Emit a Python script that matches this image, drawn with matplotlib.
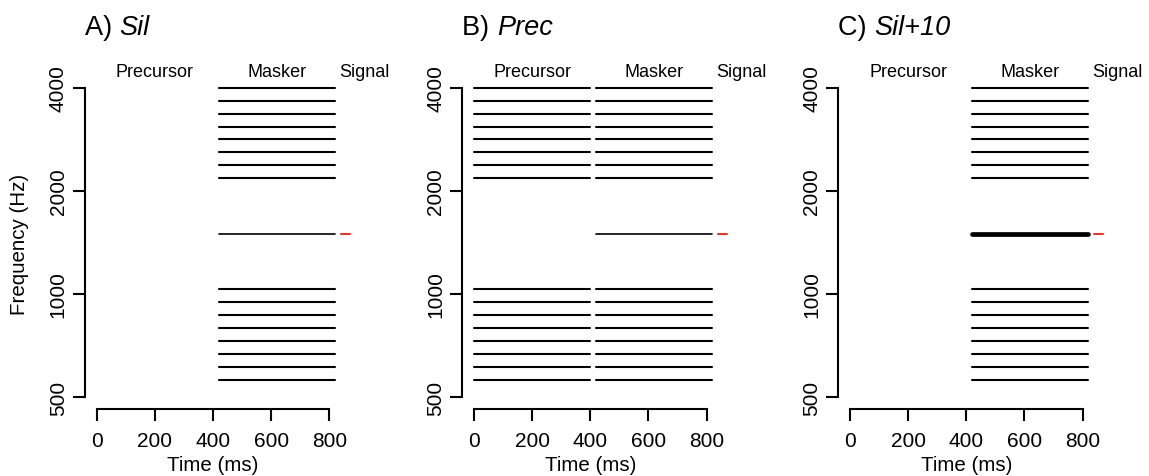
import matplotlib
matplotlib.use("Agg")
import matplotlib.pyplot as plt
import matplotlib.transforms as mtransforms

plt.rcParams['font.family'] = ['Liberation Sans', 'DejaVu Sans']

# ---------------- data ----------------
panel_letters = ["A)", "B)", "C)"]
panel_names = ["Sil", "Prec", "Sil+10"]
upper_components = [2181, 2378, 2594, 2828, 3084, 3364, 3668, 4000]   # Hz
lower_components = [562, 613, 669, 730, 796, 868, 946, 1032]          # Hz
target_freq = 1500                                                     # Hz
precursor_time = [0, 400]        # ms
masker_time = [420, 820]         # ms
signal_time = [840, 870]         # ms
has_precursor = [False, True, False]
target_boost = [False, False, True]
segment_labels = ["Precursor", "Masker", "Signal"]
segment_label_x = [200, 620, 920]
xticks = [0, 200, 400, 600, 800]
yticks = [500, 1000, 2000, 4000]

# ---------------- layout (pixels) ----------------
W, H = 1149, 477
fig = plt.figure(figsize=(W / 100, H / 100), dpi=100)

ax_left_px = [85, 462.3, 838.3]
ax_width_px = 290.8
ax_top_px = 76.6
ax_bottom_px = 410.4
ypad = 2 ** 0.12

for i in range(3):
    ax = fig.add_axes([ax_left_px[i] / W, 1 - ax_bottom_px / H,
                       ax_width_px / W, (ax_bottom_px - ax_top_px) / H])
    ax.set_yscale('log')
    ax.set_xlim(-40, 960)
    ax.set_ylim(500 / ypad, 4000 * ypad)

    comps = upper_components + lower_components
    lw = 1.5
    if has_precursor[i]:
        ax.hlines(comps, precursor_time[0], precursor_time[1], color='black',
                  lw=lw, capstyle='round')
    ax.hlines(comps, masker_time[0], masker_time[1], color='black',
              lw=lw, capstyle='round')
    ax.hlines([target_freq], masker_time[0], masker_time[1], color='black',
              lw=3.4 if target_boost[i] else 1.2, capstyle='round')
    ax.hlines([target_freq], signal_time[0], signal_time[1], color='#e5362c',
              lw=1.5, capstyle='round')

    # spines (R style)
    for s in ['top', 'right']:
        ax.spines[s].set_visible(False)
    ax.spines['left'].set_bounds(500, 4000)
    ax.spines['bottom'].set_bounds(0, 800)
    ax.spines['left'].set_linewidth(1.5)
    ax.spines['bottom'].set_linewidth(1.5)

    ax.set_xticks(xticks)
    ax.set_xticklabels([str(t) for t in xticks])
    ax.set_yticks(yticks)
    ax.set_yticklabels([str(t) for t in yticks], rotation=90, va='center')
    ax.yaxis.set_minor_locator(matplotlib.ticker.NullLocator())
    ax.tick_params(axis='both', direction='out', length=8.6, width=1.5,
                   labelsize=15)
    ax.tick_params(axis='x', pad=7)
    ax.tick_params(axis='y', pad=3.8)

    # segment labels
    trans = mtransforms.blended_transform_factory(ax.transData, ax.transAxes)
    for lab, lx in zip(segment_labels, segment_label_x):
        ax.text(lx, 1.0, lab, transform=trans, ha='center', va='baseline',
                fontsize=13, clip_on=False)

    # x label
    transx = mtransforms.blended_transform_factory(ax.transData, fig.transFigure)
    ax.text(400, 1 - 471 / H, "Time (ms)", transform=transx, ha='center',
            va='baseline', fontsize=14.8)

    # title
    t = fig.text(ax_left_px[i] / W, 1 - 35 / H, panel_letters[i] + " ",
                 ha='left', va='baseline', fontsize=19.5)
    ax.annotate(panel_names[i], xy=(1, 0), xycoords=t, xytext=(0, 0),
                textcoords='offset points', ha='left', va='bottom',
                fontsize=19.5, style='italic', annotation_clip=False)

# y label
fig.text(19.5 / W, 1 - 244 / H, "Frequency (Hz)", rotation=90, ha='center',
         va='center', fontsize=14.8)

fig.savefig("out.png", dpi=100)
